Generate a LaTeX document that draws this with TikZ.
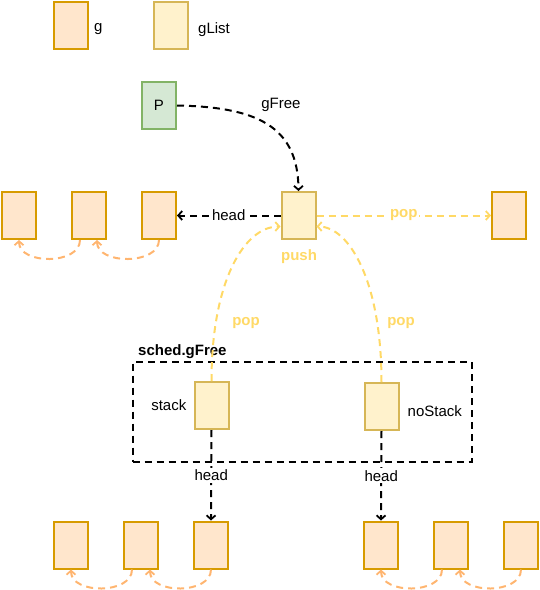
\documentclass[tikz,border=0pt]{standalone}
\usepackage{fontspec}
\setmainfont{Liberation Sans}
\usepackage{tikz}
\usetikzlibrary{arrows.meta, positioning, calc}
\definecolor{gfill}{HTML}{FFE6CC}
\definecolor{gline}{HTML}{D79B00}
\definecolor{lfill}{HTML}{FFF2CC}
\definecolor{lline}{HTML}{D6B656}
\definecolor{pfill}{HTML}{D5E8D4}
\definecolor{pline}{HTML}{82B366}
\definecolor{popc}{HTML}{FFD966}
\definecolor{nextc}{HTML}{FFB570}

\begin{document}
\begin{tikzpicture}[x=1pt, y=-1pt,
    node distance=34pt,
    every node/.style={font=\fontsize{15}{18}\selectfont, inner sep=1pt},
    gbox/.style={draw=gline, fill=gfill, line width=2pt, minimum width=34pt, minimum height=47pt},
    lbox/.style={draw=lline, fill=lfill, line width=2pt, minimum width=34pt, minimum height=47pt},
    pbox/.style={draw=pline, fill=pfill, line width=2pt, minimum width=34pt, minimum height=47pt},
    dsh/.style={line width=2pt, dash pattern=on 7pt off 5pt},
    arr/.style={dsh, -{Straight Barb[length=4pt, width=9pt, line width=1.8pt]}},
    ptr/.style={arr, black},
    yarr/.style={arr, popc},
    narr/.style={arr, nextc},
    ylbl/.style={text=popc, font=\fontsize{15}{18}\selectfont\bfseries},
    lbl/.style={fill=white, inner sep=2pt}
  ]
  \useasboundingbox (0,0) rectangle (540,590);

  % legend
  \node[gbox] (lg) at (71,25.5) {};
  \node[right=4pt of lg, yshift=-4pt] (lgt) {g};
  \node[lbox] (ll) at (171,25.5) {};
  \node[right=8pt of ll, yshift=-4pt] (llt) {gList};

  \node[pbox] (p) at (159,105.5) {P};

  % gFree list
  \node[lbox] (cur) at (298.5,215.5) {};
  \node[gbox] (t3) at (159,215.5) {};
  \node[gbox, left=of t3] (t2) {};
  \node[gbox, left=of t2] (t1) {};
  \node[gbox] (t4) at (509,215.5) {};

  % sched.gFree
  \node[draw, dsh, minimum width=339pt, minimum height=100pt] (sched) at (302,411.5) {};
  \node[anchor=west, font=\fontsize{15}{18}\selectfont\bfseries] (schedt) at (137,352) {sched.gFree};
  \node[lbox] (stk) at (211.5,405.5) {};
  \node[left=6pt of stk] (stkt) {stack};
  \node[lbox] (nstk) at (381.5,406.5) {};
  \node[right=7pt of nstk, yshift=-5pt] (nstkt) {noStack};

  \node[gbox] (s3) at (211,545) {};
  \node[gbox, left=of s3] (s2) {};
  \node[gbox, left=of s2] (s1) {};
  \node[gbox] (n1) at (381,545) {};
  \node[gbox, right=of n1] (n2) {};
  \node[gbox, right=of n2] (n3) {};

  \node (gfl) at (281,105) {gFree};
  \node[ylbl] (push) at (299,257) {push};
  \node[ylbl] (popl) at (246,323) {pop};
  \node[ylbl] (popr) at (401,323) {pop};

  \draw[ptr] (p.east) .. controls (255,107) and (298,125) .. (cur.north);
  \draw[ptr] (cur.west) -- (t3.east) node[midway, lbl] (hd0) {head};
  \draw[yarr] (cur.east) -- (t4.west) node[midway, lbl, ylbl] (pop0) {pop};
  \draw[narr] ($(t2.south)+(-9,0)$) .. controls +(0,25) and +(0,25) .. (t1.south);
  \draw[narr] (t3.south) .. controls +(0,25) and +(0,25) .. ($(t2.south)+(8,0)$);

  \draw[yarr] (stk.north) .. controls +(0,-100) and +(-36,0) .. ($(cur.west)+(0,11)$);
  \draw[yarr] (nstk.north) .. controls +(0,-100) and +(33,0) .. ($(cur.east)+(0,11)$);

  \draw[ptr] (stk.south) -- (s3.north) node[midway, lbl] (hd1) {head};
  \draw[ptr] (nstk.south) -- (n1.north) node[midway, lbl] (hd2) {head};

  \draw[narr] ($(s2.south)+(-9,0)$) .. controls +(0,25) and +(0,25) .. (s1.south);
  \draw[narr] (s3.south) .. controls +(0,25) and +(0,25) .. ($(s2.south)+(9,0)$);
  \draw[narr] ($(n2.south)+(-9,0)$) .. controls +(0,25) and +(0,25) .. (n1.south);
  \draw[narr] (n3.south) .. controls +(0,25) and +(0,25) .. ($(n2.south)+(9,0)$);
\end{tikzpicture}
\end{document}
